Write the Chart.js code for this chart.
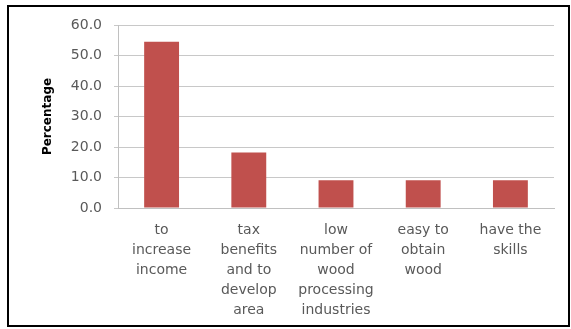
<!DOCTYPE html>
<html>
<head>
<meta charset="utf-8">
<script src="https://cdn.jsdelivr.net/npm/chart.js@4/dist/chart.umd.min.js"></script>
<style>
  html, body { margin: 0; padding: 0; background: #fff; }
  #wrap { width: 571px; height: 329px; }
</style>
</head>
<body>
<div id="wrap"><canvas id="chartReasons" width="571" height="329"></canvas></div>
<script>
const categories = [
    ['to', 'increase', 'income'],
    ['tax', 'benefits', 'and to', 'develop', 'area'],
    ['low', 'number of', 'wood', 'processing', 'industries'],
    ['easy to', 'obtain', 'wood'],
    ['have the', 'skills']
];
const percentages = [54.5, 18.2, 9.1, 9.1, 9.1];
const yTicks = [0, 10, 20, 30, 40, 50, 60];

// white background and black frame round the whole chart
const framePlugin = {
    id: 'frame',
    beforeDraw(chart) {
        const ctx = chart.ctx;
        ctx.save();
        ctx.fillStyle = '#fff';
        ctx.fillRect(0, 0, chart.width, chart.height);
        ctx.strokeStyle = '#000';
        ctx.lineWidth = 2;
        ctx.strokeRect(8, 6, 561, 320);
        ctx.restore();
    }
};

const canvas = document.getElementById('chartReasons');

new Chart(canvas, {
    type: 'bar',
    data: {
        labels: categories,
        datasets: [{
            label: 'Percentage',
            data: percentages,
            backgroundColor: '#c0504d',
            barPercentage: 0.4,
            categoryPercentage: 1
        }]
    },
    options: {
        responsive: false,
        animation: false,
        layout: {
            padding: { left: 41, right: 17, top: 25, bottom: 0 }
        },
        plugins: {
            legend: { display: false },
            tooltip: { enabled: false }
        },
        scales: {
            x: {
                grid: { display: false },
                border: { display: true, color: '#c0c0c0', width: 1 },
                ticks: {
                    color: '#595959',
                    font: { family: 'DejaVu Sans', size: 14, lineHeight: 1.43 },
                    maxRotation: 0,
                    autoSkip: false,
                    padding: 4
                },
                afterFit(scale) {
                    scale.height = 121;
                }
            },
            y: {
                min: 0,
                max: 60,
                afterBuildTicks(scale) {
                    scale.ticks = yTicks.map(v => ({ value: v }));
                },
                grid: {
                    color: '#c8c8c8',
                    tickLength: 4,
                    drawTicks: true
                },
                border: { display: true, color: '#c0c0c0' },
                ticks: {
                    color: '#595959',
                    font: { family: 'DejaVu Sans', size: 14 },
                    padding: 12,
                    callback: v => v.toFixed(1)
                },
                title: {
                    display: true,
                    text: 'Percentage',
                    color: '#000',
                    font: { family: 'DejaVu Sans', size: 12, weight: 'bold' },
                    padding: 0
                },
                afterFit(scale) {
                    scale.width = 77;
                }
            }
        }
    },
    plugins: [framePlugin]
});
</script>
</body>
</html>
